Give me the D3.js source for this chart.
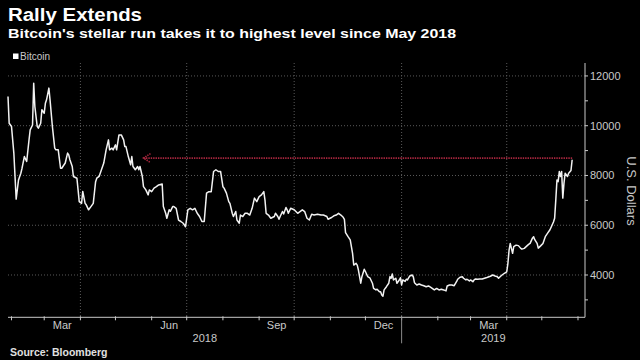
<!DOCTYPE html>
<html><head><meta charset="utf-8">
<script src="https://cdn.jsdelivr.net/npm/d3@7"></script>
<style>html,body{margin:0;padding:0;background:#000;}svg{display:block;}</style>
</head><body>
<svg id="chart" width="640" height="360"></svg>
<script>
// ---- data ----
const dates = ["2018-01-29","2018-01-30","2018-02-01","2018-02-03","2018-02-05","2018-02-07","2018-02-09","2018-02-10","2018-02-12","2018-02-14",
"2018-02-16","2018-02-17","2018-02-19","2018-02-20","2018-02-21","2018-02-23","2018-02-24","2018-02-26","2018-02-27","2018-03-01",
"2018-03-02","2018-03-03","2018-03-05","2018-03-06","2018-03-08","2018-03-10","2018-03-11","2018-03-13","2018-03-15","2018-03-16",
"2018-03-18","2018-03-19","2018-03-21","2018-03-22","2018-03-23","2018-03-25","2018-03-26","2018-03-29","2018-03-30","2018-03-31",
"2018-04-02","2018-04-03","2018-04-05","2018-04-06","2018-04-08","2018-04-10","2018-04-12","2018-04-14","2018-04-15","2018-04-17",
"2018-04-19","2018-04-21","2018-04-23","2018-04-25","2018-04-26","2018-04-28","2018-04-29","2018-05-01","2018-05-02","2018-05-04",
"2018-05-06","2018-05-08","2018-05-09","2018-05-10","2018-05-12","2018-05-14","2018-05-15","2018-05-16","2018-05-18","2018-05-20",
"2018-05-21","2018-05-22","2018-05-24","2018-05-25","2018-05-27","2018-05-29","2018-05-30","2018-06-01","2018-06-03","2018-06-05",
"2018-06-07","2018-06-10","2018-06-11","2018-06-13","2018-06-14","2018-06-16","2018-06-17","2018-06-19","2018-06-20","2018-06-22",
"2018-06-24","2018-06-26","2018-06-28","2018-06-30","2018-07-02","2018-07-04","2018-07-06","2018-07-08","2018-07-10","2018-07-12",
"2018-07-14","2018-07-16","2018-07-18","2018-07-20","2018-07-22","2018-07-24","2018-07-26","2018-07-28","2018-07-30","2018-08-01",
"2018-08-02","2018-08-04","2018-08-06","2018-08-07","2018-08-09","2018-08-10","2018-08-12","2018-08-13","2018-08-15","2018-08-16",
"2018-08-18","2018-08-20","2018-08-22","2018-08-24","2018-08-26","2018-08-28","2018-08-30","2018-09-01","2018-09-03","2018-09-05",
"2018-09-06","2018-09-07","2018-09-09","2018-09-11","2018-09-14","2018-09-15","2018-09-17","2018-09-18","2018-09-19","2018-09-21",
"2018-09-22","2018-09-24","2018-09-25","2018-09-26","2018-09-28","2018-10-01","2018-10-04","2018-10-06","2018-10-08","2018-10-10",
"2018-10-12","2018-10-14","2018-10-16","2018-10-18","2018-10-21","2018-10-24","2018-10-26","2018-10-29","2018-10-30","2018-11-02",
"2018-11-04","2018-11-06","2018-11-08","2018-11-10","2018-11-12","2018-11-13","2018-11-14","2018-11-16","2018-11-17","2018-11-18",
"2018-11-20","2018-11-21","2018-11-23","2018-11-24","2018-11-25","2018-11-27","2018-11-28","2018-11-30","2018-12-01","2018-12-03",
"2018-12-04","2018-12-05","2018-12-07","2018-12-08","2018-12-10","2018-12-11","2018-12-13","2018-12-14","2018-12-15","2018-12-16",
"2018-12-17","2018-12-19","2018-12-21","2018-12-22","2018-12-23","2018-12-24","2018-12-25","2018-12-27","2018-12-28","2018-12-30",
"2018-12-31","2019-01-01","2019-01-02","2019-01-04","2019-01-05","2019-01-06","2019-01-08","2019-01-10","2019-01-11","2019-01-12",
"2019-01-14","2019-01-16","2019-01-18","2019-01-20","2019-01-22","2019-01-24","2019-01-26","2019-01-29","2019-01-31","2019-02-02",
"2019-02-04","2019-02-06","2019-02-08","2019-02-09","2019-02-11","2019-02-13","2019-02-15","2019-02-17","2019-02-18","2019-02-20",
"2019-02-22","2019-02-23","2019-02-25","2019-02-26","2019-02-28","2019-03-01","2019-03-03","2019-03-04","2019-03-05","2019-03-07",
"2019-03-09","2019-03-11","2019-03-13","2019-03-15","2019-03-18","2019-03-20","2019-03-22","2019-03-24","2019-03-25","2019-03-27",
"2019-03-28","2019-03-30","2019-04-01","2019-04-02","2019-04-03","2019-04-04","2019-04-06","2019-04-07","2019-04-09","2019-04-11",
"2019-04-13","2019-04-14","2019-04-16","2019-04-19","2019-04-20","2019-04-21","2019-04-23","2019-04-24","2019-04-25","2019-04-27",
"2019-04-28","2019-04-30","2019-05-02","2019-05-04","2019-05-06","2019-05-08","2019-05-09","2019-05-11","2019-05-12","2019-05-13",
"2019-05-14","2019-05-15","2019-05-16","2019-05-17","2019-05-18","2019-05-19","2019-05-20","2019-05-21","2019-05-23","2019-05-24",
"2019-05-26","2019-05-27"];
const prices = [11175,10100,9970,8900,7050,7820,8090,8290,8760,8560,
9430,9830,10030,11710,10770,9970,9900,10100,10640,10500,
10900,11040,11510,11040,9970,9100,9030,9030,8290,8290,
8430,8500,8900,8830,8630,8360,7960,7890,7420,6950,
6880,7360,6880,6820,6620,6750,6880,7750,7890,7960,
8230,8500,9030,9430,9030,9100,9030,9230,9030,9630,
9630,9430,9160,9160,8760,8430,8760,8360,8230,8360,
8230,8360,7960,7550,7420,7220,7420,7350,7490,7550,
7620,7660,6750,6480,6280,6620,6560,6750,6750,6680,
6210,6150,6080,5940,6620,6680,6620,6680,6480,6350,
6150,6150,7290,7350,7350,8160,8230,8160,8160,7550,
7490,7290,6950,6880,6480,6350,6550,6210,6080,6410,
6350,6480,6480,6410,6680,7090,6950,7150,7220,7350,
7020,6480,6410,6280,6350,6480,6350,6240,6350,6550,
6450,6710,6620,6480,6680,6620,6480,6550,6620,6550,
6280,6210,6440,6410,6440,6410,6410,6350,6240,6310,
6380,6410,6480,6410,6320,6240,5700,5550,5480,5410,
4870,4400,4470,4400,4200,3670,3930,4230,4140,3930,
3900,3870,3670,3460,3400,3430,3330,3330,3200,3150,
3400,3530,3670,3930,3870,4040,3800,3870,3670,3800,
3890,3600,3800,3740,3830,3800,3960,4000,3930,3690,
3600,3640,3600,3570,3530,3560,3500,3400,3460,3400,
3430,3400,3360,3560,3600,3600,3570,3730,3830,3910,
3930,3870,3800,3830,3760,3800,3730,3800,3840,3830,
3840,3840,3870,3900,3950,4000,3960,3930,3870,3960,
4000,4070,4130,4470,5000,5270,4870,5140,5200,5180,
5070,5040,5070,5200,5240,5270,5480,5540,5420,5270,
5080,5170,5270,5540,5680,5820,5920,6130,6280,7020,
7820,7750,8160,7960,8160,7090,7690,8090,7960,8090,
8200,8630];
const yTickValues = [4000, 6000, 8000, 10000, 12000];
const yMinorTickValues = [3000, 4000, 5000, 6000, 7000, 8000, 9000, 10000, 11000, 12000];
const monthLabelNames = ["Mar", "Jun", "Sep", "Dec", "Mar"];
const monthLabelStarts = ["2018-03-01", "2018-06-01", "2018-09-01", "2018-12-01", "2019-03-01"];
const yearLabels = ["2018", "2019"];
const yearStarts = ["2018-01-29", "2019-01-01"];
const gridDates = ["2018-04-01", "2018-07-01", "2018-10-01", "2019-01-01", "2019-04-01"];
const xDomain = ["2018-01-29", "2019-06-07"];
const yDomain = [2300, 12520];
const arrowFromDate = "2019-05-27";
const arrowToDate = "2018-05-25";
const arrowLevel = 8700;
const seriesName = "Bitcoin";
const titleText = "Rally Extends";
const subtitleText = "Bitcoin's stellar run takes it to highest level since May 2018";
const yAxisTitle = "U.S. Dollars";
const sourceText = "Source: Bloomberg";

// ---- drawing ----
(function () {
const parse = d3.utcParse("%Y-%m-%d");
const data = dates.map((d, i) => ({date: parse(d), value: prices[i]}));
const svg = d3.select("#chart");
svg.append("rect").attr("width", 640).attr("height", 360).attr("fill", "#000");

const mLeft = 8, mRight = 585, mTop = 63, mBottom = 317.3;
const x = d3.scaleUtc().domain(xDomain.map(parse)).range([mLeft, mRight]);
const y = d3.scaleLinear().domain(yDomain).range([mBottom, mTop]);

const font = "'Liberation Sans', Arial, sans-serif";
const axisColor = "#c9c9c9";

// title
svg.append("text").attr("x", 8).attr("y", 21).text(titleText)
  .attr("font-family", font).attr("font-weight", "bold").attr("font-size", 17.5)
  .attr("fill", "#fff").attr("textLength", 134).attr("lengthAdjust", "spacingAndGlyphs");
svg.append("text").attr("x", 8).attr("y", 37.5).text(subtitleText)
  .attr("font-family", font).attr("font-weight", "bold").attr("font-size", 13.5)
  .attr("fill", "#fff").attr("textLength", 448).attr("lengthAdjust", "spacingAndGlyphs");

// legend
svg.append("rect").attr("x", 13).attr("y", 53.5).attr("width", 5.5).attr("height", 5.5).attr("fill", "#fff");
svg.append("text").attr("x", 20).attr("y", 60).text(seriesName)
  .attr("font-family", font).attr("font-size", 10).attr("fill", axisColor);

// horizontal gridlines
svg.append("g").selectAll("line").data(yTickValues).join("line")
  .attr("x1", mLeft).attr("x2", mRight).attr("y1", d => y(d)).attr("y2", d => y(d))
  .attr("stroke", "#5a5a5a").attr("stroke-width", 1).attr("stroke-dasharray", "1,2");
// vertical gridlines
svg.append("g").selectAll("line").data(gridDates.map(parse)).join("line")
  .attr("x1", d => x(d)).attr("x2", d => x(d)).attr("y1", mTop).attr("y2", mBottom)
  .attr("stroke", "#5a5a5a").attr("stroke-width", 1).attr("stroke-dasharray", "1,2");

// right y axis
const yAxisG = svg.append("g").attr("transform", `translate(${mRight},0)`);
yAxisG.append("line").attr("x1", 0).attr("x2", 0).attr("y1", mTop).attr("y2", mBottom)
  .attr("stroke", axisColor).attr("stroke-width", 1);
yAxisG.selectAll("line.minor").data(yMinorTickValues).join("line").attr("class", "minor")
  .attr("x1", 0).attr("x2", 3).attr("y1", d => y(d)).attr("y2", d => y(d))
  .attr("stroke", axisColor);
yAxisG.selectAll("text").data(yTickValues).join("text")
  .attr("x", 5).attr("y", d => y(d)).attr("dy", "0.35em").text(d => d)
  .attr("font-family", font).attr("font-size", 11).attr("fill", axisColor);
svg.append("text").attr("transform", `translate(627,191) rotate(90)`)
  .attr("text-anchor", "middle").text(yAxisTitle)
  .attr("font-family", font).attr("font-size", 13).attr("fill", axisColor);

// bottom x axis
const xAxisG = svg.append("g").attr("transform", `translate(0,${mBottom})`);
xAxisG.append("line").attr("x1", mLeft).attr("x2", mRight).attr("y1", 0).attr("y2", 0)
  .attr("stroke", axisColor).attr("stroke-width", 1);
const monthTicks = d3.utcMonth.range(x.domain()[0], x.domain()[1]);
xAxisG.selectAll("line.tick").data(monthTicks).join("line").attr("class", "tick")
  .attr("x1", d => x(d)).attr("x2", d => x(d)).attr("y1", -1).attr("y2", 3)
  .attr("stroke", axisColor);
xAxisG.selectAll("text.month").data(monthLabelStarts.map(parse)).join("text").attr("class", "month")
  .attr("x", d => (x(d) + x(d3.utcMonth.offset(d, 1))) / 2).attr("y", 11.5)
  .attr("text-anchor", "middle").text((d, i) => monthLabelNames[i])
  .attr("font-family", font).attr("font-size", 11).attr("fill", axisColor);
const yearBounds = yearStarts.map(parse).concat([x.domain()[1]]);
xAxisG.selectAll("text.year").data(yearLabels).join("text").attr("class", "year")
  .attr("x", (d, i) => (x(yearBounds[i]) + x(yearBounds[i + 1])) / 2).attr("y", 25)
  .attr("text-anchor", "middle").text(d => d)
  .attr("font-family", font).attr("font-size", 11).attr("fill", axisColor);
xAxisG.append("line").attr("x1", x(parse(yearStarts[1]))).attr("x2", x(parse(yearStarts[1])))
  .attr("y1", 0).attr("y2", 26).attr("stroke", "#8a8a8a");

// arrow
const ax1 = x(parse(arrowFromDate)), ax2 = x(parse(arrowToDate)), ay = y(arrowLevel);
const arrowColor = "#a8263e";
svg.append("line").attr("x1", ax1).attr("x2", ax2).attr("y1", ay).attr("y2", ay)
  .attr("stroke", arrowColor).attr("stroke-width", 1.8).attr("stroke-dasharray", "1.4,1");
svg.append("path").attr("d", `M${ax2 + 7},${ay - 4.5}L${ax2},${ay}L${ax2 + 7},${ay + 4.5}`)
  .attr("fill", "none").attr("stroke", arrowColor).attr("stroke-width", 1.6).attr("stroke-dasharray", "1.4,1");

// line
const line = d3.line().x(d => x(d.date)).y(d => y(d.value));
svg.append("path").datum(data).attr("d", line).attr("fill", "none")
  .attr("stroke", "#f2f2f2").attr("stroke-width", 1.5).attr("stroke-linejoin", "round");

// source
svg.append("text").attr("x", 10).attr("y", 356).text(sourceText)
  .attr("font-family", font).attr("font-weight", "bold").attr("font-size", 10.5).attr("fill", "#e0e0e0");
})();
</script>
</body></html>
